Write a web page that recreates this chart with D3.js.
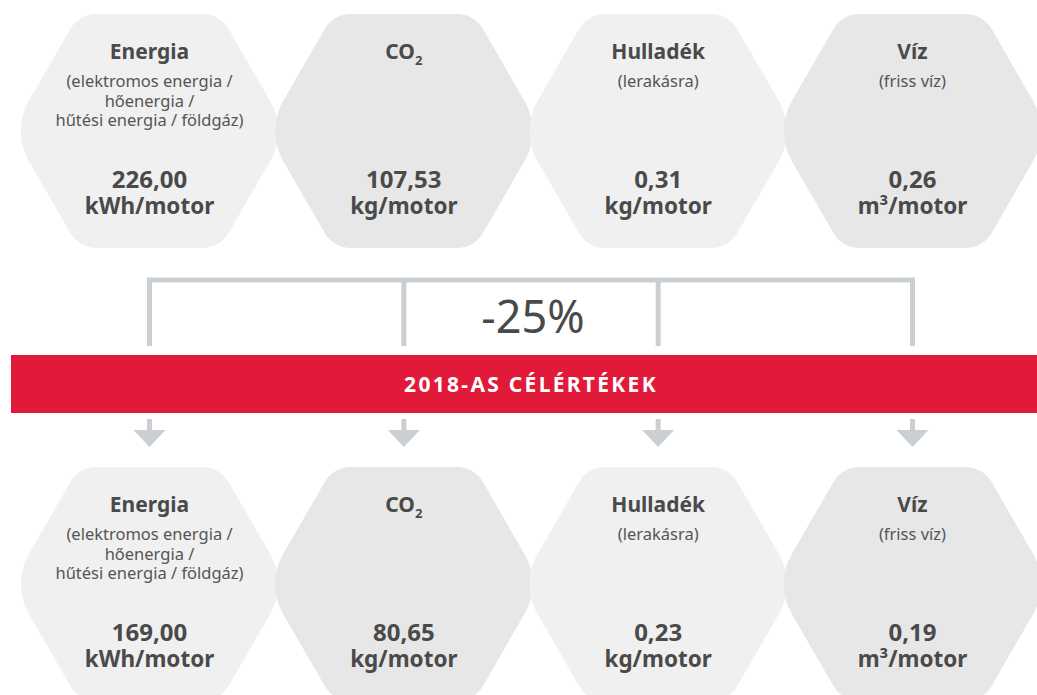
<!DOCTYPE html>
<html>
  <head>
    <meta charset="utf-8">
    <title>2018-as célértékek</title>
    <style>
      body { margin: 0; background: #fff; }
      svg text { font-family: "Noto Sans", "Open Sans", sans-serif; }
    </style>
  </head>
  <body>
    <script src="https://d3js.org/d3.v7.min.js"></script>
    <svg id="chart" width="1037" height="695"></svg>
    <script>
      // data
      categories = ["Energia", "CO2", "Hulladék", "Víz"]
      subtitles = [
        ["(elektromos energia /", "hőenergia /", "hűtési energia / földgáz)"],
        [],
        ["(lerakásra)"],
        ["(friss víz)"]
      ]
      units = ["kWh/motor", "kg/motor", "kg/motor", "m³/motor"]
      current = [226.00, 107.53, 0.31, 0.26]
      target = [169.00, 80.65, 0.23, 0.19]
      reduction = "-25%"
      bandLabel = "2018-AS CÉLÉRTÉKEK"

      width = 1037
      height = 695
      hexW = 138   // half width (sharp vertex)
      hexH = 117   // half height
      hexA = hexW - hexH * Math.tan(Math.PI / 6)  // half length of the flat top edge
      rows = [{values: current, top: 14}, {values: target, top: 467}]

      hu = d3.formatLocale({decimal: ",", thousands: " ", grouping: [3], currency: ["", " Ft"]})
      fmt = hu.format(".2f")

      x = d3.scalePoint().domain(categories).range([149.5, 912.5])

      svg = d3.select('#chart')

      // hexagon with rounded corners, built from tangent points + arcs
      function hexPath(cx, cy) {
        let pts = [[cx + hexA, cy - hexH], [cx + hexW, cy], [cx + hexA, cy + hexH],
                   [cx - hexA, cy + hexH], [cx - hexW, cy], [cx - hexA, cy - hexH]]
        let radii = [30, 60, 30, 30, 60, 30]
        let n = pts.length
        let corners = pts.map((v, i) => {
          let p = pts[(i + n - 1) % n], q = pts[(i + 1) % n]
          let u1 = [p[0] - v[0], p[1] - v[1]], u2 = [q[0] - v[0], q[1] - v[1]]
          let l1 = Math.hypot(u1[0], u1[1]), l2 = Math.hypot(u2[0], u2[1])
          u1 = [u1[0] / l1, u1[1] / l1]
          u2 = [u2[0] / l2, u2[1] / l2]
          let ang = Math.acos(u1[0] * u2[0] + u1[1] * u2[1])
          let t = radii[i] / Math.tan(ang / 2)
          return {r: radii[i],
                  a: [v[0] + u1[0] * t, v[1] + u1[1] * t],
                  b: [v[0] + u2[0] * t, v[1] + u2[1] * t]}
        })
        let d = `M${corners[n - 1].b}`
        corners.forEach(c => {
          d += `L${c.a}A${c.r},${c.r},0,0,1,${c.b}`
        })
        return d + 'Z'
      }

      rows.forEach(row => {
        let cy = row.top + hexH
        let g = svg.append('g')
        let cell = g.selectAll('g.cell')
          .data(categories)
          .join('g')
          .attr('class', 'cell')

        cell.append('path')
          .attr('d', d => hexPath(x(d), cy))
          .attr('fill', (d, i) => i % 2 ? '#e7e7e7' : '#f0f0f0')

        // title
        let title = cell.append('text')
          .attr('x', d => x(d))
          .attr('y', row.top + 45)
          .attr('text-anchor', 'middle')
          .attr('font-size', 21)
          .attr('font-weight', 'bold')
          .attr('fill', '#4a4a4a')
        title.filter(d => d != "CO2").text(d => d)
        let co = title.filter(d => d == "CO2")
        co.append('tspan').text('CO')
        co.append('tspan').attr('font-size', 13).attr('dy', 6).text('2')

        // subtitle lines
        cell.each(function(d, i) {
          d3.select(this).selectAll('text.sub')
            .data(subtitles[i])
            .join('text')
            .attr('class', 'sub')
            .attr('x', x(d))
            .attr('y', (s, j) => row.top + 73 + j * 19.5)
            .attr('text-anchor', 'middle')
            .attr('font-size', 16.5)
            .attr('fill', '#555')
            .text(s => s)
        })

        // value + unit
        cell.append('text')
          .attr('x', d => x(d))
          .attr('y', row.top + 174)
          .attr('text-anchor', 'middle')
          .attr('font-size', 24)
          .attr('font-weight', 'bold')
          .attr('fill', '#4a4a4a')
          .text((d, i) => fmt(row.values[i]))

        cell.append('text')
          .attr('x', d => x(d))
          .attr('y', row.top + 200)
          .attr('text-anchor', 'middle')
          .attr('font-size', 22.5)
          .attr('font-weight', 'bold')
          .attr('fill', '#4a4a4a')
          .text((d, i) => units[i])
      })

      // bracket joining the four columns
      let first = x(categories[0]), last = x(categories[categories.length - 1])
      let bracket = svg.append('g')
        .attr('fill', 'none')
        .attr('stroke', '#c9cfd2')
        .attr('stroke-width', 5)
      bracket.append('path')
        .attr('d', `M${first},346V280H${last}V346`)
        .attr('stroke-linejoin', 'miter')
      bracket.selectAll('line')
        .data(categories.slice(1, -1))
        .join('line')
        .attr('x1', d => x(d)).attr('x2', d => x(d))
        .attr('y1', 280).attr('y2', 346)

      let mid = (x(categories[1]) + x(categories[2])) / 2
      svg.append('text')
        .attr('x', mid + 2)
        .attr('y', 333)
        .attr('text-anchor', 'middle')
        .attr('font-size', 45)
        .attr('fill', '#4a4a4a')
        .text(reduction)

      // red band
      svg.append('rect')
        .attr('x', 11).attr('y', 355)
        .attr('width', width - 11).attr('height', 58)
        .attr('fill', '#e11a3a')
      svg.append('text')
        .attr('x', mid)
        .attr('y', 392)
        .attr('text-anchor', 'middle')
        .attr('font-size', 21)
        .attr('font-weight', 'bold')
        .attr('letter-spacing', 2.3)
        .attr('fill', '#fff')
        .text(bandLabel)

      // arrows
      let arrows = svg.append('g').attr('fill', '#c9cfd2')
        .selectAll('g')
        .data(categories)
        .join('g')
      arrows.append('rect')
        .attr('x', d => x(d) - 2.5).attr('y', 419)
        .attr('width', 5).attr('height', 12)
      arrows.append('path')
        .attr('d', d => `M${x(d) - 16},430H${x(d) + 16}L${x(d)},447Z`)
    </script>
  </body>
</html>
